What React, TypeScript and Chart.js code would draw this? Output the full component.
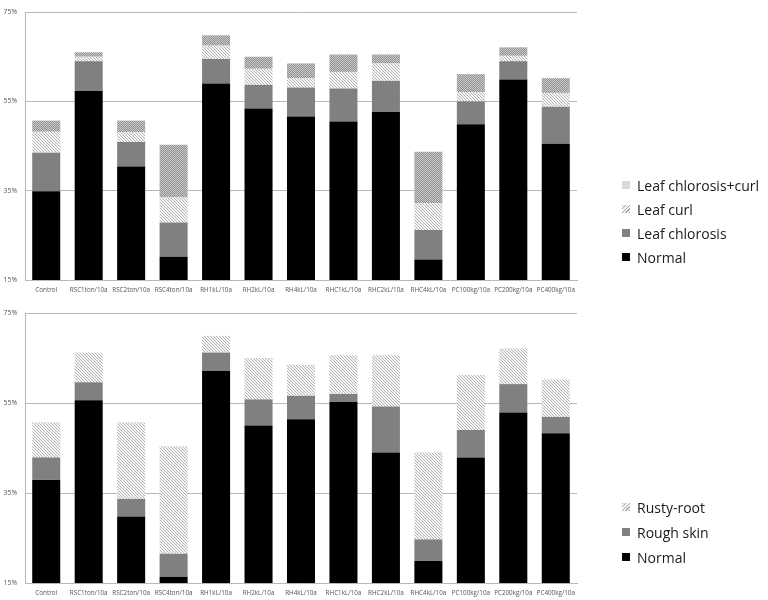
import React, { useEffect, useRef } from "react";
import { Chart, registerables } from "chart.js";
Chart.register(...registerables);

const categories = [
  "Control", "RSC1ton/10a", "RSC2ton/10a", "RSC4ton/10a", "RH1kL/10a", "RH2kL/10a",
  "RH4kL/10a", "RHC1kL/10a", "RHC2kL/10a", "RHC4kL/10a", "PC100kg/10a", "PC200kg/10a", "PC400kg/10a",
];
const yMin = 15;
const yMax = 75;
const yStep = 20;

// Top chart (leaf symptoms, %)
const leafNormal = [34.9, 57.3, 40.4, 20.2, 59.0, 53.4, 51.6, 50.5, 52.7, 19.6, 49.9, 59.9, 45.5];
const leafChlorosis = [8.6, 6.7, 5.5, 7.7, 5.5, 5.3, 6.5, 7.4, 6.9, 6.6, 5.1, 4.1, 8.3];
const leafCurl = [4.7, 1.0, 2.2, 5.6, 3.0, 3.6, 2.1, 3.7, 3.9, 6.0, 2.1, 1.2, 3.1];
const leafChlorosisCurl = [2.5, 1.0, 2.6, 11.8, 2.3, 2.7, 3.3, 3.9, 2.0, 11.5, 4.0, 1.9, 3.3];

// Bottom chart (root symptoms, %)
const rootNormal = [37.9, 55.6, 29.8, 16.4, 62.1, 50.0, 51.4, 55.3, 44.0, 19.9, 42.9, 52.9, 48.3];
const roughSkin = [5.0, 4.0, 3.9, 5.1, 4.1, 5.8, 5.2, 1.7, 10.2, 4.8, 6.1, 6.3, 3.6];
const rustyRoot = [7.8, 6.6, 17.0, 23.9, 3.7, 9.2, 6.9, 8.6, 11.4, 19.3, 12.2, 7.9, 8.3];

const topLegend = ["Leaf chlorosis+curl", "Leaf curl", "Leaf chlorosis", "Normal"];
const bottomLegend = ["Rusty-root", "Rough skin", "Normal"];

function hatchPattern(): CanvasPattern | string {
  const c = document.createElement("canvas");
  c.width = 3;
  c.height = 3;
  const ctx = c.getContext("2d");
  if (!ctx) return "#d8d8d8";
  ctx.fillStyle = "#f6f6f6";
  ctx.fillRect(0, 0, 3, 3);
  ctx.fillStyle = "#b4b4b4";
  for (let i = 0; i < 3; i++) ctx.fillRect(i, i, 1, 1);
  return ctx.createPattern(c, "repeat") || "#d8d8d8";
}

function dotPattern(): CanvasPattern | string {
  const c = document.createElement("canvas");
  c.width = 2;
  c.height = 2;
  const ctx = c.getContext("2d");
  if (!ctx) return "#a6a6a6";
  ctx.fillStyle = "#929292";
  ctx.fillRect(0, 0, 2, 2);
  ctx.fillStyle = "#c8c8c8";
  ctx.fillRect(0, 0, 1, 1);
  ctx.fillRect(1, 1, 1, 1);
  return ctx.createPattern(c, "repeat") || "#a6a6a6";
}

const xFont = { family: "'Open Sans', sans-serif", size: 6.3 };
const yFont = { family: "'Open Sans', sans-serif", size: 6.8 };

function makeChart(canvas: HTMLCanvasElement, datasets: any[], padTop: number, xHeight: number) {
  return new Chart(canvas, {
    type: "bar",
    data: { labels: categories, datasets },
    options: {
      animation: false,
      responsive: false,
      devicePixelRatio: 1,
      layout: { padding: { top: padTop, right: 191, left: 0, bottom: 0 } },
      plugins: { legend: { display: false }, tooltip: { enabled: false } },
      datasets: { bar: { categoryPercentage: 1, barPercentage: 0.66, borderWidth: 0 } },
      scales: {
        x: {
          stacked: true,
          afterFit: (s: any) => { s.height = xHeight; },
          grid: { display: false, drawTicks: false },
          border: { display: true, color: "#b8b8b8" },
          ticks: { font: xFont, color: "#555", padding: 6, maxRotation: 0, autoSkip: false },
        },
        y: {
          stacked: true,
          min: yMin,
          max: yMax,
          afterFit: (s: any) => { s.width = 25; },
          grid: { color: "#b8b8b8", lineWidth: 1, drawTicks: false },
          border: { display: true, color: "#b8b8b8" },
          ticks: {
            stepSize: yStep,
            font: yFont,
            color: "#555",
            padding: 8,
            callback: (v: any) => `${v}%`,
          },
        },
      },
    },
  });
}

type LegendItem = { label: string; bg: string };

function Legend({ items, centers }: { items: LegendItem[]; centers: number[] }) {
  return (
    <>
      {items.map((it, i) => (
        <div
          key={it.label}
          style={{
            position: "absolute",
            left: 622,
            top: centers[i] - 12,
            height: 24,
            display: "flex",
            alignItems: "center",
            fontFamily: "'Open Sans', sans-serif",
            fontSize: 14,
            color: "#1a1a1a",
            whiteSpace: "nowrap",
          }}
        >
          <span style={{ display: "inline-block", width: 8, height: 8, background: it.bg, marginRight: 7 }} />
          <span>{it.label}</span>
        </div>
      ))}
    </>
  );
}

const hatchCss = "repeating-linear-gradient(135deg, #a8a8a8 0 1px, #f4f4f4 1px 2.5px)";

export default function App() {
  const topRef = useRef<HTMLCanvasElement>(null);
  const botRef = useRef<HTMLCanvasElement>(null);

  useEffect(() => {
    document.body.style.margin = "0";
    const hatch = hatchPattern();
    const dots = dotPattern();
    const top = makeChart(
      topRef.current!,
      [
        { label: "Normal", data: leafNormal, backgroundColor: "#000000" },
        { label: "Leaf chlorosis", data: leafChlorosis, backgroundColor: "#808080" },
        { label: "Leaf curl", data: leafCurl, backgroundColor: hatch },
        { label: "Leaf chlorosis+curl", data: leafChlorosisCurl, backgroundColor: dots },
      ],
      8,
      20
    );
    const bot = makeChart(
      botRef.current!,
      [
        { label: "Normal", data: rootNormal, backgroundColor: "#000000" },
        { label: "Rough skin", data: roughSkin, backgroundColor: "#808080" },
        { label: "Rusty-root", data: rustyRoot, backgroundColor: hatch },
      ],
      13,
      17
    );
    return () => {
      top.destroy();
      bot.destroy();
    };
  }, []);

  const topItems: LegendItem[] = [
    { label: topLegend[0], bg: "#d9d9d9" },
    { label: topLegend[1], bg: hatchCss },
    { label: topLegend[2], bg: "#808080" },
    { label: topLegend[3], bg: "#000000" },
  ];
  const botItems: LegendItem[] = [
    { label: bottomLegend[0], bg: hatchCss },
    { label: bottomLegend[1], bg: "#808080" },
    { label: bottomLegend[2], bg: "#000000" },
  ];

  return (
    <div style={{ position: "absolute", left: 0, top: 0, width: 768, height: 600, background: "#fff" }}>
      <canvas ref={topRef} width={768} height={300} style={{ position: "absolute", left: 0, top: 0 }} />
      <canvas ref={botRef} width={768} height={300} style={{ position: "absolute", left: 0, top: 300 }} />
      <Legend items={topItems} centers={[185, 209, 233, 257]} />
      <Legend items={botItems} centers={[507, 532, 557]} />
    </div>
  );
}
